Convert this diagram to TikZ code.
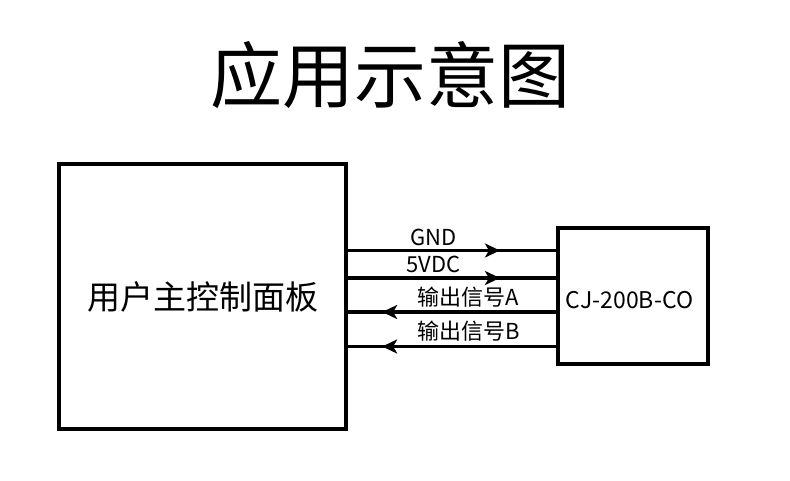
\documentclass[tikz,border=0pt]{standalone}
\usepackage{fontspec}
\setmainfont{Noto Sans CJK SC}
\usetikzlibrary{arrows.meta,decorations.markings}
\tikzset{
  block/.style={draw, line width=3.5pt, inner sep=0pt},
  wire/.style={line width=3.5pt, postaction={decorate},
    decoration={markings, mark=at position #1 with {\arrow{Stealth[length=15pt,width=14pt,inset=4pt]}}}},
  tag/.style={above, inner sep=3pt, font=\fontsize{22}{24}\selectfont}
}
\begin{document}
\begin{tikzpicture}[x=1pt,y=-1pt]
  \useasboundingbox (0,0) rectangle (790,480);
  \node (title) at (390.5,75) {\fontsize{72}{80}\selectfont 应用示意图};
  \node[block, minimum width=287pt, minimum height=265pt,
    font=\fontsize{33}{36}\selectfont] (panel) at (202.5,296.5) {用户主控制面板};
  \node[block, minimum width=150pt, minimum height=136pt] (sensor) at (633,296) {};
  \node[font=\fontsize{23}{26}\selectfont] (sensorname) at (629.5,300) {CJ-200B-CO};
  % signal lines
  \draw[wire=0.73] (panel.east |- 0,250.5) -- node[tag, pos=0.41] {GND} (sensor.west |- 0,250.5);
  \draw[wire=0.73] (panel.east |- 0,278) -- node[tag, pos=0.41] {5VDC} (sensor.west |- 0,278);
  \draw[wire=0.835] (sensor.west |- 0,312) -- node[tag, pos=0.42] {输出信号A} (panel.east |- 0,312);
  \draw[wire=0.835] (sensor.west |- 0,346.5) -- node[tag, pos=0.42] {输出信号B} (panel.east |- 0,346.5);
\end{tikzpicture}
\end{document}
